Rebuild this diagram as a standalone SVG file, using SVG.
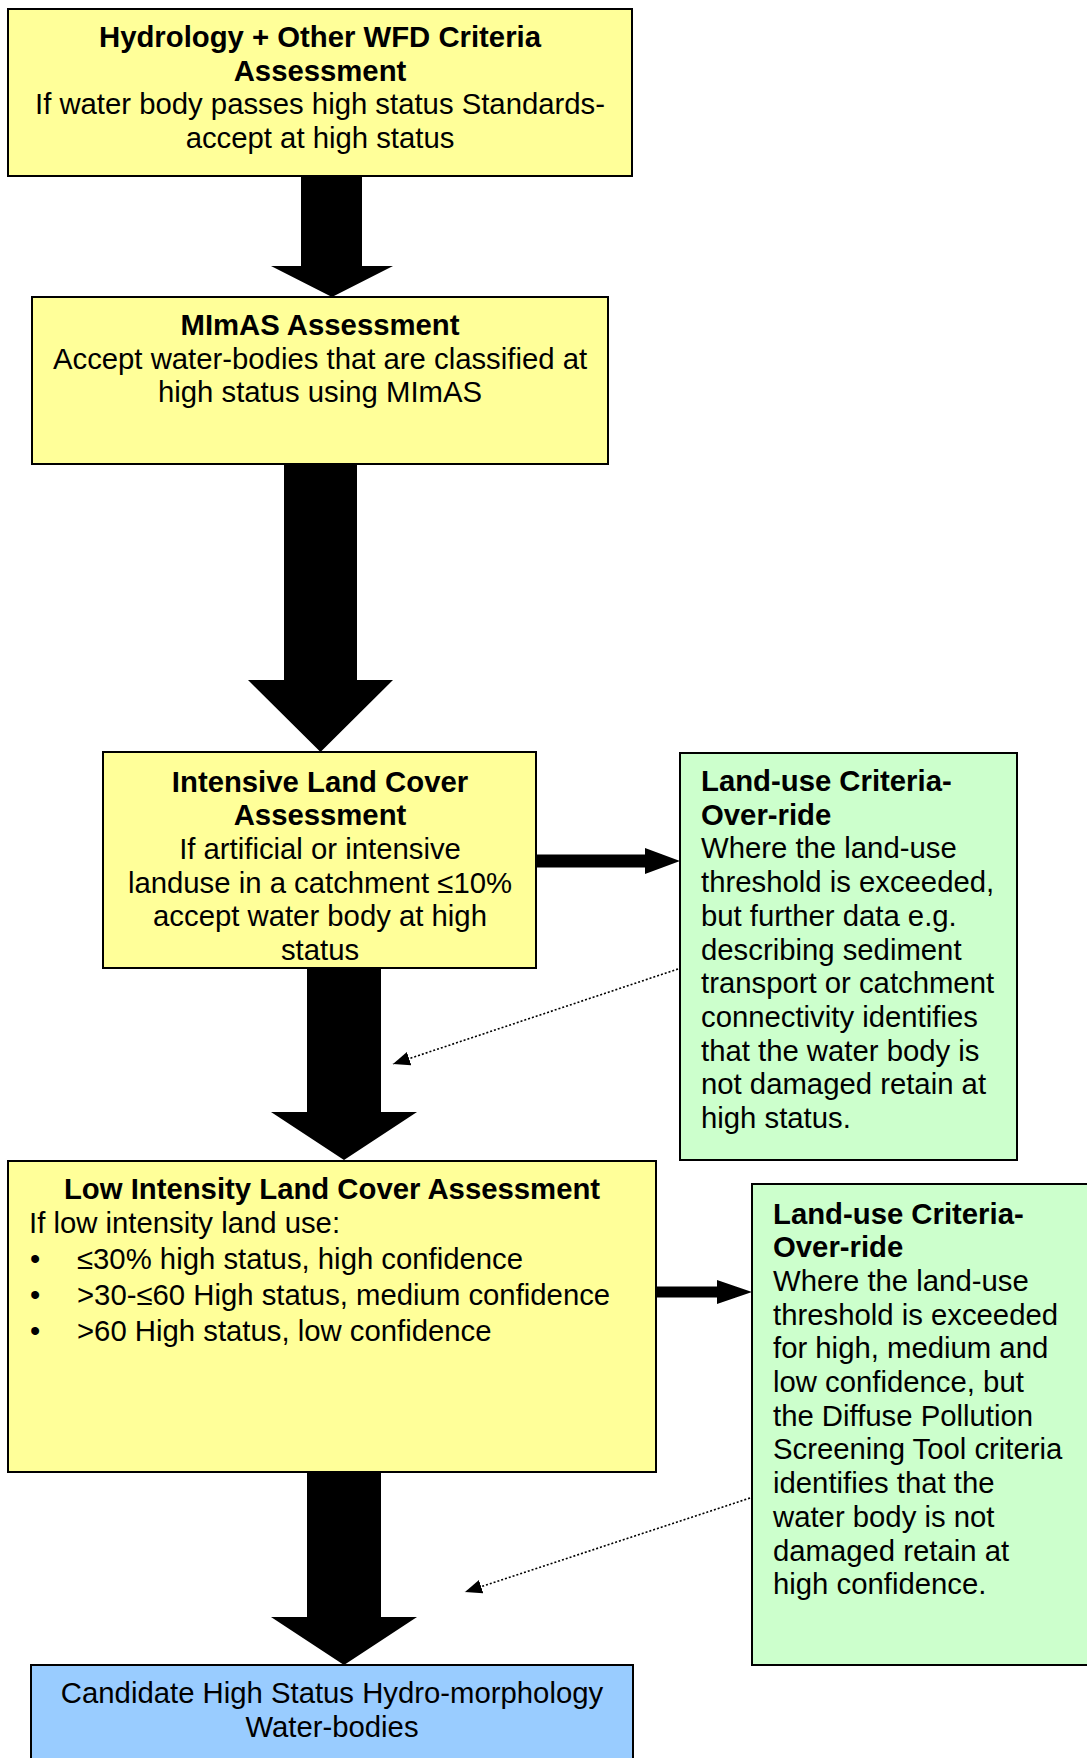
<svg xmlns="http://www.w3.org/2000/svg" width="1087" height="1758" viewBox="0 0 1087 1758">
<style>
  text { font-family: "Liberation Sans", Arial, sans-serif; font-size: 29.3px; fill: #000; }
  .b { font-weight: bold; }
  .c { text-anchor: middle; }
  .yellow { fill: #FFFF99; stroke: #000; stroke-width: 2; }
  .green { fill: #CCFFCC; stroke: #000; stroke-width: 2; }
  .blue { fill: #99CCFF; stroke: #000; stroke-width: 2; }
  .block { fill: #000; stroke: none; }
  .dotted { fill: none; stroke: #000; stroke-width: 1.6; stroke-dasharray: 2 2; }
</style>
<defs>
  <marker id="head" markerUnits="userSpaceOnUse" markerWidth="17" markerHeight="14" viewBox="0 0 17 14" refX="17" refY="7" orient="auto">
    <path d="M0,0 L17,7 L0,14 z" fill="#000"/>
  </marker>
</defs>
<rect width="1087" height="1758" fill="#fff"/>
<g id="connectors">
  <polygon class="block" points="301,176 362,176 362,266 393,266 332,297 271,266 301,266"/>
  <polygon class="block" points="284,464 357,464 357,680 393,680 320.5,752 248,680 284,680"/>
  <polygon class="block" points="307,968 381,968 381,1112 417,1112 344,1160 271,1112 307,1112"/>
  <polygon class="block" points="307,1472 381,1472 381,1617 417,1617 344,1665 271,1617 307,1617"/>
  <polygon class="block" points="536,854.5 645,854.5 645,848 680,861 645,874 645,867.5 536,867.5"/>
  <polygon class="block" points="656,1286.5 717,1286.5 717,1280 752,1292 717,1304 717,1297.5 656,1297.5"/>
  <line class="dotted" x1="678" y1="969" x2="393" y2="1064" marker-end="url(#head)"/>
  <line class="dotted" x1="750" y1="1498" x2="465" y2="1592" marker-end="url(#head)"/>
</g>
<g id="hydrology">
  <rect class="yellow" x="8" y="9" width="624" height="167"/>
  <text class="c b" x="320" y="47">Hydrology + Other WFD Criteria</text>
  <text class="c b" x="320" y="80.5">Assessment</text>
  <text class="c" x="320" y="114">If water body passes high status Standards-</text>
  <text class="c" x="320" y="147.5">accept at high status</text>
</g>
<g id="mimas">
  <rect class="yellow" x="32" y="297" width="576" height="167"/>
  <text class="c b" x="320" y="335">MImAS Assessment</text>
  <text class="c" x="320" y="368.5">Accept water-bodies that are classified at</text>
  <text class="c" x="320" y="402">high status using MImAS</text>
</g>
<g id="intensive">
  <rect class="yellow" x="103" y="752" width="433" height="216"/>
  <text class="c b" x="320" y="791.5">Intensive Land Cover</text>
  <text class="c b" x="320" y="825.2">Assessment</text>
  <text class="c" x="320" y="858.9">If artificial or intensive</text>
  <text class="c" x="320" y="892.6">landuse in a catchment ≤10%</text>
  <text class="c" x="320" y="926.3">accept water body at high</text>
  <text class="c" x="320" y="960">status</text>
</g>
<g id="override1">
  <rect class="green" x="680" y="753" width="337" height="407"/>
  <text class="b" x="701" y="791">Land-use Criteria-</text>
  <text class="b" x="701" y="824.7">Over-ride</text>
  <text x="701" y="858.4">Where the land-use</text>
  <text x="701" y="892.1">threshold is exceeded,</text>
  <text x="701" y="925.8">but further data e.g.</text>
  <text x="701" y="959.5">describing sediment</text>
  <text x="701" y="993.2">transport or catchment</text>
  <text x="701" y="1026.9">connectivity identifies</text>
  <text x="701" y="1060.6">that the water body is</text>
  <text x="701" y="1094.3">not damaged retain at</text>
  <text x="701" y="1128">high status.</text>
</g>
<g id="lowintensity">
  <rect class="yellow" x="8" y="1161" width="648" height="311"/>
  <text class="c b" x="332" y="1199">Low Intensity Land Cover Assessment</text>
  <text x="29" y="1233">If low intensity land use:</text>
  <text x="30" y="1269">•</text>
  <text x="77" y="1269">≤30% high status, high confidence</text>
  <text x="30" y="1305">•</text>
  <text x="77" y="1305">&gt;30-≤60 High status, medium confidence</text>
  <text x="30" y="1341">•</text>
  <text x="77" y="1341">&gt;60 High status, low confidence</text>
</g>
<g id="override2">
  <rect class="green" x="752" y="1184" width="345" height="481"/>
  <text class="b" x="773" y="1223.5">Land-use Criteria-</text>
  <text class="b" x="773" y="1257.2">Over-ride</text>
  <text x="773" y="1290.9">Where the land-use</text>
  <text x="773" y="1324.6">threshold is exceeded</text>
  <text x="773" y="1358.3">for high, medium and</text>
  <text x="773" y="1392">low confidence, but</text>
  <text x="773" y="1425.7">the Diffuse Pollution</text>
  <text x="773" y="1459.4">Screening Tool criteria</text>
  <text x="773" y="1493.1">identifies that the</text>
  <text x="773" y="1526.8">water body is not</text>
  <text x="773" y="1560.5">damaged retain at</text>
  <text x="773" y="1594.2">high confidence.</text>
</g>
<g id="candidate">
  <rect class="blue" x="31" y="1665" width="602" height="110"/>
  <text class="c" x="332" y="1703">Candidate High Status Hydro-morphology</text>
  <text class="c" x="332" y="1737">Water-bodies</text>
</g>
</svg>
